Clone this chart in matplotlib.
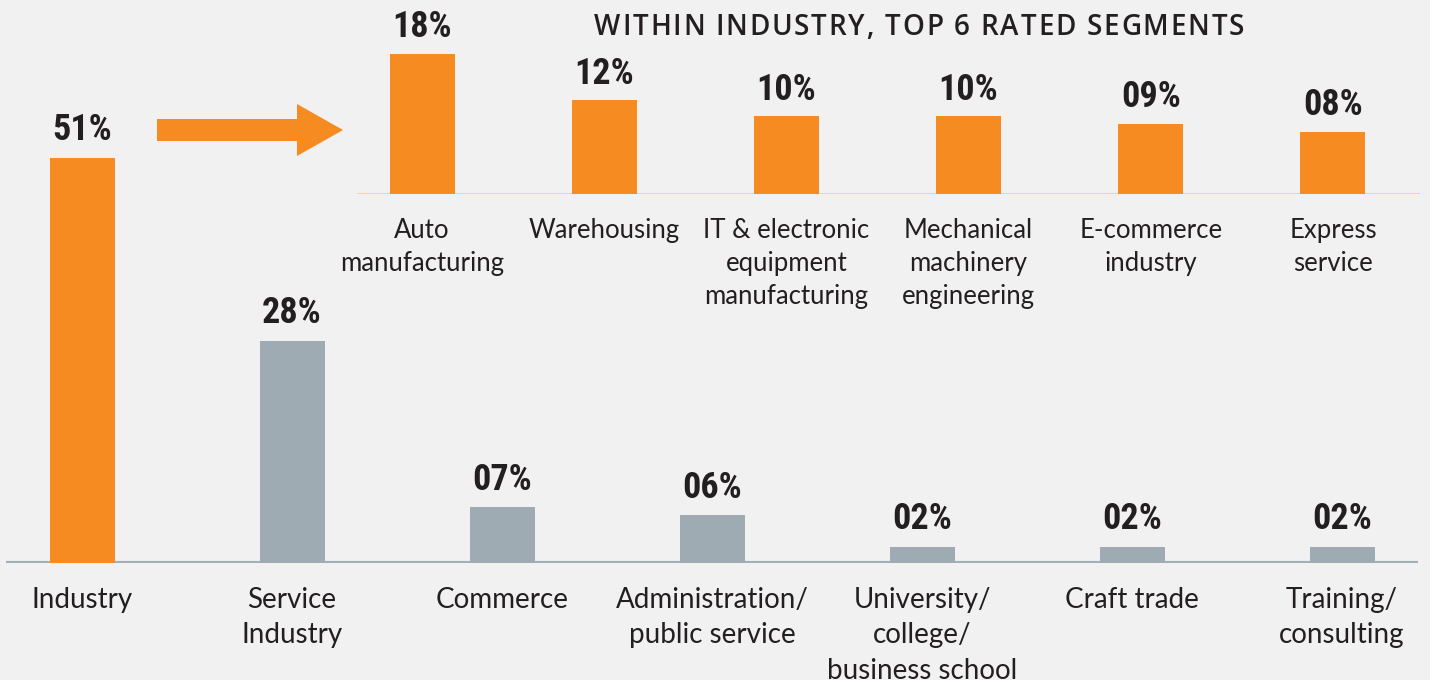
import matplotlib.pyplot as plt
from matplotlib.patches import FancyArrow
from matplotlib.font_manager import FontProperties, findfont
from matplotlib.ft2font import FT2Font

# main chart: sector shares
sectors = ['Industry', 'Service\nIndustry', 'Commerce', 'Administration/\npublic service',
           'University/\ncollege/\nbusiness school', 'Craft trade', 'Training/\nconsulting']
sector_pct = [51, 28, 7, 6, 2, 2, 2]

# inset: top segments inside industry
segments = ['Auto\nmanufacturing', 'Warehousing', 'IT & electronic\nequipment\nmanufacturing',
            'Mechanical\nmachinery\nengineering', 'E-commerce\nindustry', 'Express\nservice']
segment_pct = [18, 12, 10, 10, 9, 8]

inset_title = 'WITHIN INDUSTRY, TOP 6 RATED SEGMENTS'

ORANGE = '#f68b22'
GREY = '#9eabb2'
BG = '#f1f1f1'
TEXT = '#231f20'
label_font = 'Lato'
value_font = ['Liberation Sans Narrow', 'Roboto Condensed', 'Roboto', 'DejaVu Sans']

W, H = 1430, 680
DPI = 100
fig = plt.figure(figsize=(W / DPI, H / DPI), dpi=DPI, facecolor=BG)


def px_axes(x0, x1, y_base, y_top):
    # pixel box (top-left origin) -> figure axes
    return fig.add_axes([x0 / W, 1 - y_base / H, (x1 - x0) / W, (y_base - y_top) / H])


def fmt(v):
    return '%02d%%' % v


# ---- main axes ----
step = 210.0
ax = px_axes(6, 1418, 563, 563 - 60 * 7.94)
ax.set_facecolor('none')
ax.set_xlim((6 - 82) / step, (1418 - 82) / step)
ax.set_ylim(0, 60)
xs = list(range(len(sectors)))
colors = [ORANGE] + [GREY] * (len(sectors) - 1)
ax.bar(xs, sector_pct, width=65 / step, color=colors, zorder=3)
ax.axhline(0, color='#a3aeb5', lw=3, zorder=2)
for x, v in zip(xs, sector_pct):
    ax.annotate(fmt(v), (x, v), xytext=(0, 7), textcoords='offset points',
                ha='center', va='bottom', fontsize=26, fontweight='bold',
                family=value_font, color=TEXT)
ax.set_xticks(xs)
ax.set_xticklabels(sectors, fontsize=20, family=label_font, color=TEXT, linespacing=1.45)
ax.tick_params(axis='x', length=0, pad=17)
ax.set_yticks([])
for s in ax.spines.values():
    s.set_visible(False)

# ---- inset axes ----
istep = 182.2
ax2 = px_axes(357, 1420, 194, 194 - 20 * 7.8)
ax2.set_facecolor('none')
ax2.set_xlim((357 - 422) / istep, (1420 - 422) / istep)
ax2.set_ylim(0, 20)
ixs = list(range(len(segments)))
ax2.bar(ixs, segment_pct, width=65 / istep, color=ORANGE, zorder=3)
ax2.axhline(0, color='#f9d0ad', lw=2.2, zorder=2)
for x, v in zip(ixs, segment_pct):
    ax2.annotate(fmt(v), (x, v), xytext=(0, 6), textcoords='offset points',
                 ha='center', va='bottom', fontsize=26, fontweight='bold',
                 family=value_font, color=TEXT)
ax2.set_xticks(ixs)
ax2.set_xticklabels(segments, fontsize=18.5, family=label_font, color=TEXT, linespacing=1.42)
ax2.tick_params(axis='x', length=0, pad=17)
ax2.set_yticks([])
for s in ax2.spines.values():
    s.set_visible(False)

# title with letter spacing: place char by char, spread over ~650 px
tprop = FontProperties(family=['Open Sans', 'Lato'], weight='semibold', size=20)
ft = FT2Font(findfont(tprop))
ft.set_size(tprop.get_size_in_points(), DPI)
adv = [ft.load_char(ord(c)).linearHoriAdvance / 65536 for c in inset_title]
track = (650 - sum(adv)) / (len(inset_title) - 1)
cx = 919 - (sum(adv) + track * (len(inset_title) - 1)) / 2
for c, a in zip(inset_title, adv):
    if c != ' ':
        fig.text(cx / W, 1 - 35 / H, c, ha='left', va='baseline', fontproperties=tprop,
                 color=TEXT)
    cx += a + track

# arrow pointing to the inset
arrow = FancyArrow(157 / W, 1 - 130 / H, (297 - 157) / W, 0, width=22 / H,
                   head_width=52 / H, head_length=46 / W, length_includes_head=False,
                   transform=fig.transFigure, color=ORANGE, lw=0)
fig.patches.append(arrow)

fig.savefig('out.png', dpi=DPI, facecolor=BG)
